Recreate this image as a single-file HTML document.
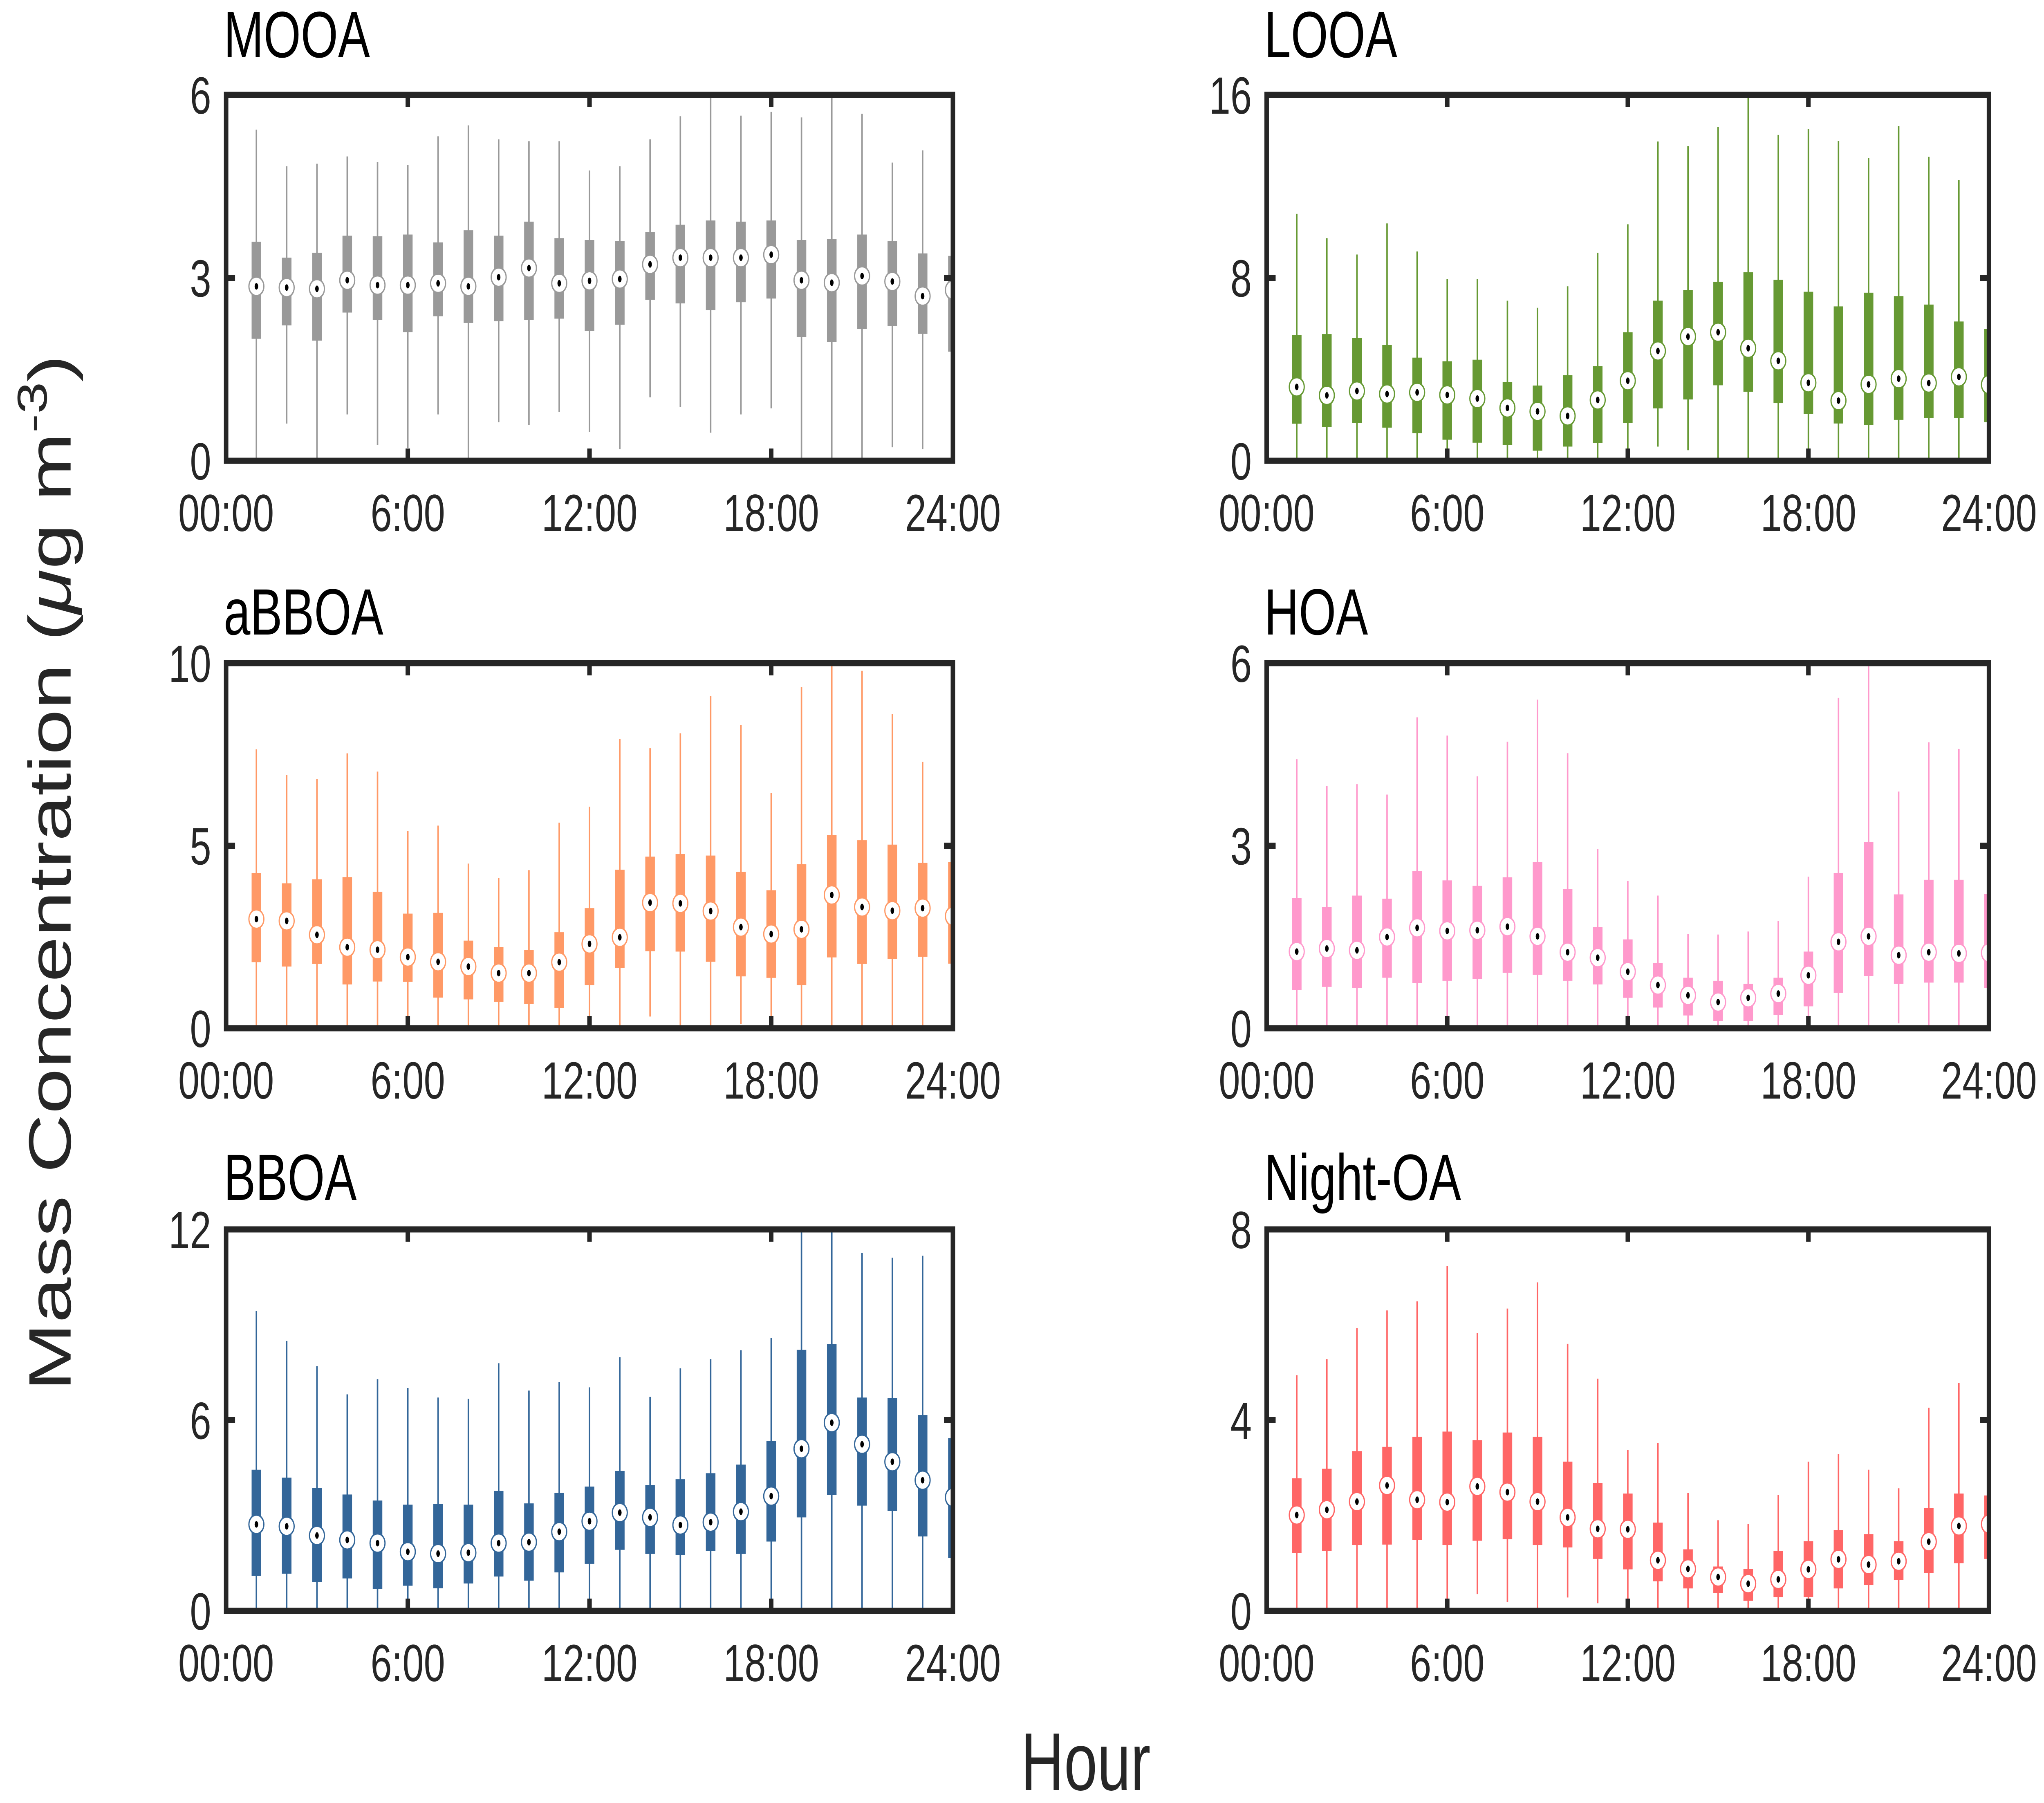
<!DOCTYPE html>
<html><head><meta charset="utf-8">
<style>
html,body{margin:0;padding:0;background:#fff;width:100%;height:100%;overflow:hidden;}
svg{display:block;width:100vw;height:100vh;}
text{font-family:"Liberation Sans",Arial,sans-serif;fill:#262626;}
</style></head>
<body>
<svg id="fig" viewBox="0 0 6834 4410" preserveAspectRatio="none" xmlns="http://www.w3.org/2000/svg">
<text transform="translate(236,2135) rotate(-90)" text-anchor="middle" font-size="200">Mass Concentration (<tspan font-style="italic">μ</tspan>g m<tspan dy="-80" font-size="140">-3</tspan><tspan dy="80">)</tspan></text>
<text x="3630" y="4378" text-anchor="middle" font-size="200">Hour</text>
</svg>
<script>
const hours=[1,2,3,4,5,6,7,8,9,10,11,12,13,14,15,16,17,18,19,20,21,22,23,24];
const xTickVals=[0,6,12,18,24];
const xTickLabels=["00:00","6:00","12:00","18:00","24:00"];

const mooaHi=[5.43,4.83,4.87,4.99,4.9,4.85,5.32,5.5,5.27,5.24,5.24,4.76,4.83,5.27,5.65,5.98,5.66,5.72,5.63,5.98,5.69,4.89,5.09,5.48];
const mooaQ3=[3.59,3.33,3.41,3.69,3.68,3.71,3.58,3.78,3.69,3.92,3.65,3.62,3.6,3.75,3.87,3.94,3.92,3.94,3.62,3.64,3.71,3.6,3.4,3.36];
const mooaMed=[2.86,2.84,2.82,2.96,2.88,2.88,2.91,2.86,3.01,3.16,2.91,2.95,2.98,3.22,3.33,3.33,3.33,3.38,2.96,2.92,3.03,2.94,2.7,2.8];
const mooaQ1=[2.0,2.22,1.97,2.43,2.31,2.11,2.37,2.26,2.29,2.31,2.33,2.13,2.23,2.64,2.58,2.47,2.6,2.66,2.03,1.95,2.16,2.21,2.08,1.79];
const mooaLo=[0,0.61,0,0.76,0.26,0.21,0.76,0,0.63,0.59,0.8,0.47,0.19,1.04,0.88,0.46,0.76,0.86,0,0,0,0.22,0.19,0];

const looaHi=[10.8,9.73,9.02,10.38,9.15,7.94,7.94,7.0,6.69,7.63,9.09,10.34,13.96,13.76,14.6,16,14.25,14.5,13.98,13.24,14.64,13.29,12.27,10.98];
const looaQ3=[5.5,5.54,5.37,5.06,4.51,4.35,4.42,3.45,3.29,3.74,4.14,5.62,7.0,7.47,7.83,8.24,7.91,7.39,6.75,7.35,7.2,6.83,6.09,5.76];
const looaMed=[3.23,2.86,3.05,2.92,2.99,2.88,2.72,2.31,2.16,1.96,2.66,3.5,4.8,5.43,5.62,4.92,4.37,3.41,2.63,3.34,3.59,3.4,3.67,3.33];
const looaQ1=[1.62,1.47,1.65,1.45,1.21,0.92,0.79,0.68,0.44,0.62,0.77,1.65,2.29,2.68,3.3,3.02,2.52,2.05,1.63,1.57,1.79,1.87,1.87,1.69];
const looaLo=[0,0,0,0,0,0,0,0,0,0,0,0.2,0.62,0.46,0,0,0,0,0,0,0,0,0,0];

const abboaHi=[7.64,6.94,6.83,7.53,7.03,5.4,5.55,4.51,4.11,4.33,5.63,6.07,7.92,7.67,8.08,9.1,8.3,6.44,9.34,9.95,9.79,8.61,7.3,7.9];
const abboaQ3=[4.25,3.97,4.08,4.14,3.74,3.14,3.16,2.4,2.22,2.15,2.63,3.29,4.34,4.7,4.77,4.73,4.28,3.78,4.49,5.29,5.15,5.03,4.53,4.55];
const abboaMed=[2.99,2.94,2.56,2.22,2.15,1.95,1.82,1.69,1.51,1.51,1.81,2.31,2.49,3.44,3.42,3.21,2.77,2.58,2.71,3.65,3.32,3.22,3.29,3.07];
const abboaQ1=[1.81,1.69,1.76,1.2,1.28,1.27,0.84,0.79,0.72,0.67,0.56,1.18,1.65,2.11,2.1,1.82,1.42,1.38,1.18,1.94,1.76,1.9,1.96,1.77];
const abboaLo=[0,0,0,0,0,0,0,0,0,0,0,0,0,0.32,0,0,0.12,0,0,0,0,0,0.05,0];

const hoaHi=[4.42,3.98,4.01,3.84,5.11,4.81,4.14,4.71,5.4,4.52,2.95,2.42,2.18,1.55,1.54,1.59,1.76,2.49,5.43,6.0,3.89,4.7,4.59,4.33];
const hoaQ3=[2.14,1.99,2.18,2.13,2.58,2.43,2.34,2.48,2.73,2.29,1.66,1.46,1.07,0.83,0.78,0.73,0.83,1.26,2.55,3.06,2.2,2.44,2.44,2.21];
const hoaMed=[1.26,1.31,1.28,1.5,1.65,1.6,1.61,1.67,1.51,1.25,1.16,0.93,0.71,0.54,0.43,0.5,0.57,0.87,1.42,1.51,1.2,1.25,1.23,1.24];
const hoaQ1=[0.63,0.68,0.66,0.83,0.74,0.78,0.81,0.91,0.88,0.78,0.72,0.5,0.34,0.21,0.12,0.12,0.22,0.36,0.58,0.86,0.73,0.75,0.75,0.66];
const hoaLo=[0,0,0,0,0,0,0,0,0.03,0,0.05,0,0,0,0,0,0,0,0,0,0.08,0.04,0,0.08];

const bboaHi=[9.44,8.49,7.7,6.81,7.29,7.01,6.71,6.67,7.79,6.93,7.2,7.03,7.98,6.73,7.63,7.92,8.2,8.59,12,12,11.26,11.11,11.17,11.08];
const bboaQ3=[4.44,4.19,3.87,3.66,3.47,3.34,3.36,3.34,3.77,3.38,3.71,3.91,4.4,3.96,4.14,4.33,4.6,5.34,8.21,8.39,6.71,6.69,6.16,5.43];
const bboaMed=[2.72,2.66,2.37,2.23,2.13,1.86,1.8,1.83,2.13,2.16,2.49,2.82,3.09,2.94,2.7,2.79,3.12,3.61,5.1,5.92,5.24,4.69,4.11,3.57];
const bboaQ1=[1.1,1.17,0.91,1.02,0.69,0.79,0.71,0.86,1.08,0.95,1.21,1.48,1.92,1.79,1.75,1.89,1.79,2.18,2.94,3.64,3.31,3.14,2.34,1.66];
const bboaLo=[0,0,0,0,0,0,0,0,0,0,0,0,0,0,0,0,0,0,0,0,0,0,0,0];

const noaHi=[4.94,5.28,5.93,6.3,6.49,7.23,5.83,6.34,6.89,5.6,4.87,3.37,3.52,2.47,1.9,1.82,2.43,3.13,3.29,2.96,2.57,4.26,4.78,4.13];
const noaQ3=[2.78,2.98,3.35,3.44,3.65,3.76,3.58,3.74,3.65,3.13,2.68,2.46,1.85,1.29,0.93,0.88,1.26,1.46,1.69,1.61,1.46,2.16,2.46,2.42];
const noaMed=[2.01,2.12,2.29,2.63,2.33,2.28,2.61,2.49,2.29,1.96,1.72,1.71,1.06,0.88,0.71,0.57,0.66,0.87,1.08,0.97,1.04,1.45,1.78,1.82];
const noaQ1=[1.21,1.26,1.38,1.39,1.49,1.38,1.47,1.5,1.38,1.33,1.09,0.87,0.62,0.47,0.37,0.21,0.29,0.29,0.47,0.54,0.65,0.79,1.0,1.09];
const noaLo=[0,0,0,0,0,0,0.35,0.18,0,0.28,0.16,0.2,0,0,0,0,0,0,0,0,0,0,0,0];

const yTicksMOOA=[0,3,6];
const yTicksLOOA=[0,8,16];
const yTicksABBOA=[0,5,10];
const yTicksHOA=[0,3,6];
const yTicksBBOA=[0,6,12];
const yTicksNOA=[0,4,8];

const NS="http://www.w3.org/2000/svg";
const svg=document.getElementById('fig');
function mk(tag,attrs,parent){const e=document.createElementNS(NS,tag);for(const k in attrs)e.setAttribute(k,attrs[k]);(parent||svg).appendChild(e);return e;}

const panels=[
 {key:'mooa',title:'MOOA',color:'#999999',x0:756,x1:3186,y0:232,y1:1127,yt:yTicksMOOA,hi:mooaHi,q3:mooaQ3,med:mooaMed,q1:mooaQ1,lo:mooaLo,ty:140},
 {key:'looa',title:'LOOA',color:'#669933',x0:4235,x1:6650,y0:232,y1:1127,yt:yTicksLOOA,hi:looaHi,q3:looaQ3,med:looaMed,q1:looaQ1,lo:looaLo,ty:140},
 {key:'abboa',title:'aBBOA',color:'#ff9966',x0:756,x1:3186,y0:1622,y1:2515,yt:yTicksABBOA,hi:abboaHi,q3:abboaQ3,med:abboaMed,q1:abboaQ1,lo:abboaLo,ty:1552},
 {key:'hoa',title:'HOA',color:'#ff99cc',x0:4235,x1:6650,y0:1622,y1:2515,yt:yTicksHOA,hi:hoaHi,q3:hoaQ3,med:hoaMed,q1:hoaQ1,lo:hoaLo,ty:1552},
 {key:'bboa',title:'BBOA',color:'#336699',x0:756,x1:3186,y0:3007,y1:3940,yt:yTicksBBOA,hi:bboaHi,q3:bboaQ3,med:bboaMed,q1:bboaQ1,lo:bboaLo,ty:2935},
 {key:'night-oa',title:'Night-OA',color:'#ff6666',x0:4235,x1:6650,y0:3007,y1:3940,yt:yTicksNOA,hi:noaHi,q3:noaQ3,med:noaMed,q1:noaQ1,lo:noaLo,ty:2935}
];

panels.forEach(p=>{
  const g=mk('g',{});
  
  
  const ymax=p.yt[p.yt.length-1];
  const xs=h=>p.x0+(h/24)*(p.x1-p.x0);
  const ys=v=>p.y1-(v/ymax)*(p.y1-p.y0);
  const cid='clip-'+p.key;
  const cp=mk('clipPath',{id:cid},g);
  mk('rect',{x:p.x0,y:p.y0-5,width:p.x1-p.x0,height:p.y1-p.y0+5},cp);
  const marks=mk('g',{'clip-path':'url(#'+cid+')'},g);
  
  
  hours.forEach((h,i)=>{
    const x=xs(h);
    const bg=mk('g',{},marks);
    
    
    mk('line',{x1:x,x2:x,y1:ys(p.lo[i]),y2:ys(p.hi[i]),stroke:p.color,'stroke-width':5},bg);
    mk('rect',{x:x-16,y:ys(p.q3[i]),width:32,height:ys(p.q1[i])-ys(p.q3[i]),fill:p.color},bg);
    mk('ellipse',{cx:x,cy:ys(p.med[i]),rx:25,ry:23,fill:'#fff',stroke:p.color,'stroke-width':4},bg);
    mk('ellipse',{cx:x,cy:ys(p.med[i]),rx:6,ry:8,fill:'#000'},bg);
  });
  const fr=mk('rect',{x:p.x0,y:p.y0,width:p.x1-p.x0,height:p.y1-p.y0,fill:'none',stroke:'#262626','stroke-width':15},g);
  
  
  xTickVals.forEach((v,i)=>{
    const x=xs(v);
    if(v>0&&v<24){
      mk('line',{x1:x,x2:x,y1:p.y0,y2:p.y0+30,stroke:'#262626','stroke-width':15},g);
      mk('line',{x1:x,x2:x,y1:p.y1,y2:p.y1-30,stroke:'#262626','stroke-width':15},g);
    }
    const t=mk('text',{x:x,y:p.y1+172,'text-anchor':'middle','font-size':128},g);
    
    
    t.textContent=xTickLabels[i];
  });
  p.yt.forEach(v=>{
    const y=ys(v);
    if(v>0&&v<ymax){
      mk('line',{x1:p.x0,x2:p.x0+30,y1:y,y2:y,stroke:'#262626','stroke-width':15},g);
      mk('line',{x1:p.x1,x2:p.x1-30,y1:y,y2:y,stroke:'#262626','stroke-width':15},g);
    }
    const t=mk('text',{x:p.x0-50,y:y+46,'text-anchor':'end','font-size':128},g);
    
    
    t.textContent=String(v);
  });
  const tt=mk('text',{x:p.x0-8,y:p.ty,'font-size':160,style:'fill:#000'},g);
  
  
  tt.textContent=p.title;
});
</script>
</body></html>
